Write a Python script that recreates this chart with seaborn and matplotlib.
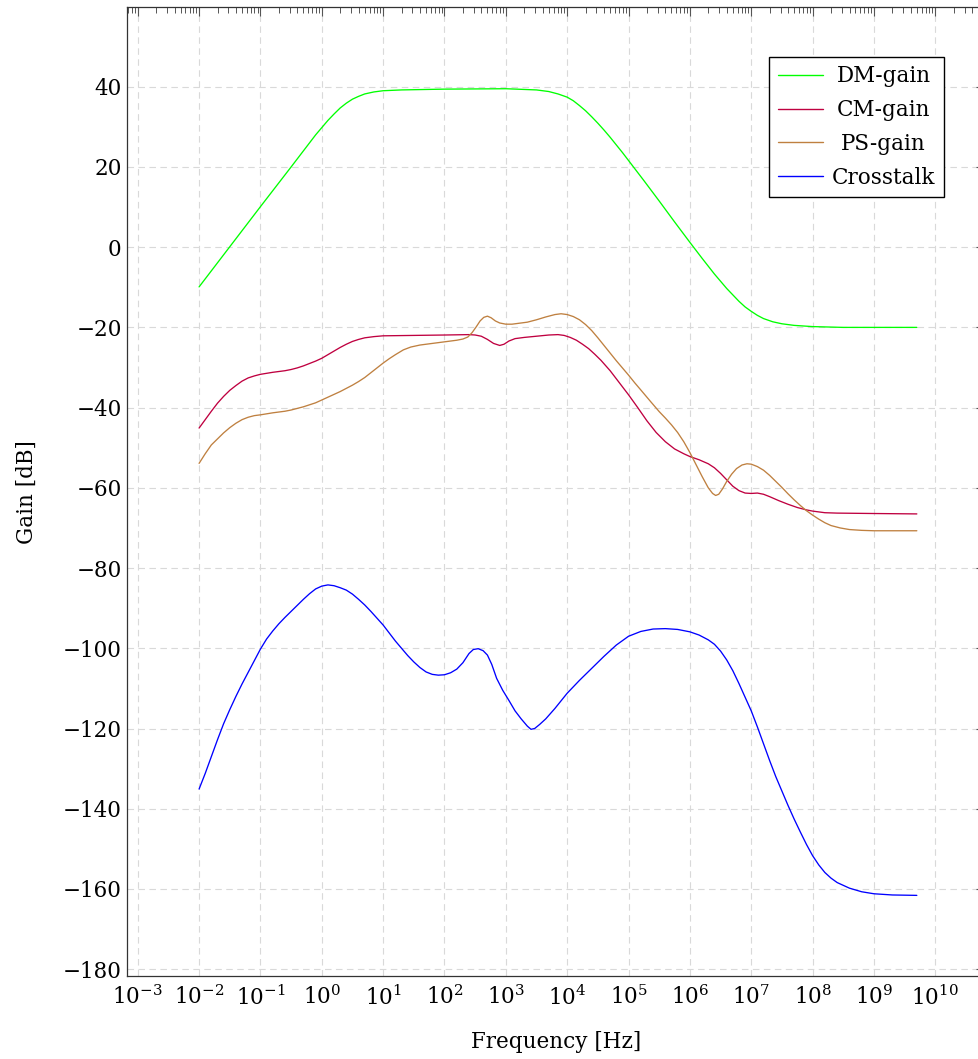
import numpy as np
import pandas as pd
import matplotlib
matplotlib.use("Agg")
import matplotlib.pyplot as plt
import seaborn as sns
from matplotlib.ticker import LogLocator, LogFormatterSciNotation, NullFormatter
from matplotlib.transforms import Affine2D

# ---------------- data (log10 of frequency in Hz, gain in dB) ----------------
series_names = ["DM-gain", "CM-gain", "PS-gain", "Crosstalk"]

dm_logf = [-2.0, -1.5, -1.0, -0.5, -0.2, -0.1, 0.0, 0.1, 0.2, 0.3, 0.4, 0.5, 0.6, 0.7, 0.85,
           1.0, 1.3, 2.0, 3.0, 3.5, 3.7, 3.85, 4.0, 4.1, 4.2, 4.3, 4.4, 4.5, 4.6, 4.7, 4.8,
           4.9, 5.0, 5.25, 5.5, 5.75, 6.0, 6.2, 6.4, 6.6, 6.8, 6.9, 7.0, 7.1, 7.2, 7.35, 7.5,
           7.7, 8.0, 8.5, 9.0, 9.699]
dm_gain = [-9.9, 0.1, 10.1, 20.0, 26.0, 28.0, 29.8, 31.6, 33.2, 34.7, 35.9, 36.9, 37.6, 38.2,
           38.7, 39.0, 39.2, 39.4, 39.5, 39.2, 38.8, 38.2, 37.4, 36.5, 35.3, 34.0, 32.5, 30.9,
           29.2, 27.4, 25.5, 23.6, 21.6, 16.6, 11.5, 6.3, 1.2, -2.8, -6.7, -10.3, -13.5,
           -14.9, -16.0, -17.0, -17.8, -18.6, -19.1, -19.5, -19.8, -20.0, -20.0, -20.0]

cm_logf = [-2.0, -1.9, -1.8, -1.7, -1.6, -1.5, -1.4, -1.3, -1.2, -1.1, -1.0, -0.8, -0.6,
           -0.5, -0.4, -0.3, -0.2, -0.1, 0.0, 0.1, 0.2, 0.3, 0.4, 0.5, 0.6, 0.7, 0.85, 1.0,
           1.5, 2.0, 2.4, 2.5, 2.6, 2.7, 2.8, 2.9, 2.97, 3.05, 3.15, 3.3, 3.5, 3.7, 3.85,
           3.95, 4.05, 4.15, 4.25, 4.35, 4.45, 4.55, 4.7, 4.85, 5.0, 5.15, 5.3, 5.45, 5.6,
           5.75, 5.9, 6.0, 6.15, 6.3, 6.4, 6.5, 6.6, 6.7, 6.8, 6.9, 7.0, 7.1, 7.2, 7.3, 7.45,
           7.6, 7.75, 7.9, 8.0, 8.2, 8.4, 9.0, 9.699]
cm_gain = [-45.1, -43.0, -40.9, -38.9, -37.2, -35.7, -34.5, -33.4, -32.6, -32.1, -31.7,
           -31.2, -30.8, -30.5, -30.1, -29.6, -29.0, -28.4, -27.7, -26.8, -25.9, -25.0,
           -24.2, -23.5, -23.0, -22.6, -22.3, -22.1, -22.0, -21.9, -21.8, -21.9, -22.2,
           -23.0, -24.0, -24.5, -24.2, -23.4, -22.8, -22.5, -22.2, -21.9, -21.8, -22.0,
           -22.5, -23.2, -24.2, -25.3, -26.7, -28.2, -30.8, -33.8, -36.8, -40.0, -43.3,
           -46.2, -48.5, -50.3, -51.5, -52.2, -53.0, -54.0, -55.0, -56.4, -58.0, -59.6,
           -60.7, -61.3, -61.4, -61.3, -61.6, -62.2, -63.2, -64.1, -64.9, -65.5, -65.8,
           -66.2, -66.3, -66.4, -66.5]

ps_logf = [-2.0, -1.9, -1.8, -1.7, -1.6, -1.5, -1.4, -1.3, -1.2, -1.1, -1.0, -0.8, -0.6,
           -0.5, -0.4, -0.3, -0.2, -0.1, 0.0, 0.1, 0.2, 0.3, 0.4, 0.5, 0.6, 0.7, 0.8, 0.9,
           1.0, 1.1, 1.2, 1.33, 1.45, 1.6, 1.8, 2.0, 2.2, 2.3, 2.38, 2.45, 2.52, 2.58, 2.64,
           2.7, 2.76, 2.83, 2.9, 3.0, 3.1, 3.2, 3.35, 3.5, 3.65, 3.8, 3.9, 4.0, 4.1, 4.2,
           4.3, 4.4, 4.5, 4.6, 4.7, 4.8, 4.9, 5.0, 5.1, 5.2, 5.36, 5.5, 5.6, 5.7, 5.8, 5.9,
           6.0, 6.1, 6.2, 6.3, 6.37, 6.42, 6.47, 6.53, 6.6, 6.68, 6.76, 6.85, 6.93, 7.0,
           7.1, 7.2, 7.3, 7.4, 7.5, 7.6, 7.7, 7.8, 7.9, 8.0, 8.1, 8.2, 8.3, 8.45, 8.6, 8.8,
           9.0, 9.699]
ps_gain = [-53.9, -51.5, -49.3, -47.8, -46.3, -45.0, -43.9, -43.0, -42.4, -42.0, -41.8,
           -41.3, -40.9, -40.6, -40.2, -39.8, -39.3, -38.8, -38.1, -37.4, -36.7, -36.0,
           -35.2, -34.4, -33.5, -32.5, -31.3, -30.1, -28.9, -27.8, -26.8, -25.6, -24.9,
           -24.4, -24.0, -23.6, -23.2, -22.9, -22.4, -21.3, -19.8, -18.4, -17.5, -17.2,
           -17.6, -18.4, -18.9, -19.2, -19.2, -19.0, -18.7, -18.1, -17.4, -16.8, -16.6,
           -16.8, -17.3, -18.1, -19.3, -20.8, -22.6, -24.5, -26.4, -28.3, -30.1, -31.9,
           -33.8, -35.6, -38.5, -41.0, -42.6, -44.3, -46.2, -48.5, -51.2, -54.2, -57.2,
           -60.0, -61.4, -61.9, -61.6, -60.3, -58.4, -56.6, -55.2, -54.3, -54.0, -54.1,
           -54.7, -55.6, -56.9, -58.4, -59.9, -61.5, -63.0, -64.4, -65.7, -66.8, -67.8,
           -68.7, -69.4, -70.0, -70.4, -70.6, -70.7, -70.7]

xt_logf = [-2.0, -1.9, -1.8, -1.7, -1.6, -1.5, -1.4, -1.3, -1.2, -1.1, -1.0, -0.9, -0.8,
           -0.7, -0.6, -0.5, -0.4, -0.3, -0.2, -0.1, 0.0, 0.1, 0.2, 0.3, 0.4, 0.5, 0.6, 0.7,
           0.8, 0.9, 1.0, 1.1, 1.2, 1.3, 1.4, 1.5, 1.6, 1.7, 1.8, 1.9, 2.0, 2.1, 2.2, 2.3,
           2.4, 2.47, 2.55, 2.63, 2.7, 2.77, 2.85, 2.95, 3.05, 3.15, 3.25, 3.35, 3.41, 3.47,
           3.55, 3.65, 3.8, 4.0, 4.2, 4.4, 4.6, 4.8, 5.0, 5.2, 5.4, 5.6, 5.8, 6.0, 6.15, 6.3,
           6.4, 6.5, 6.6, 6.7, 6.8, 6.9, 7.0, 7.1, 7.2, 7.3, 7.4, 7.5, 7.6, 7.7, 7.8, 7.9,
           8.0, 8.1, 8.2, 8.3, 8.4, 8.6, 8.8, 9.0, 9.3, 9.699]
xt_gain = [-135.1, -131.2, -127.0, -122.8, -118.8, -115.3, -112.0, -108.9, -106.0, -103.1,
           -100.2, -97.7, -95.7, -93.9, -92.3, -90.8, -89.3, -87.8, -86.4, -85.2, -84.5,
           -84.2, -84.4, -84.9, -85.5, -86.5, -87.8, -89.2, -90.8, -92.5, -94.2, -96.2,
           -98.2, -100.0, -101.8, -103.4, -104.8, -105.9, -106.5, -106.7, -106.6, -106.1,
           -105.2, -103.6, -101.3, -100.3, -100.1, -100.6, -101.7, -104.0, -107.5, -110.5,
           -113.0, -115.6, -117.6, -119.4, -120.2, -120.0, -119.0, -117.6, -115.0, -111.2,
           -108.0, -105.0, -102.0, -99.2, -97.0, -95.8, -95.2, -95.1, -95.3, -95.9, -96.7,
           -97.9, -99.0, -100.7, -102.9, -105.6, -108.8, -112.2, -115.6, -119.6, -123.8,
           -128.0, -132.0, -135.6, -139.2, -142.6, -145.8, -148.9, -151.7, -154.0, -155.9,
           -157.3, -158.4, -159.8, -160.7, -161.2, -161.5, -161.6]

x_tick_exponents = list(range(-3, 11))
y_ticks = list(range(-180, 41, 20))

colors = {"DM-gain": "#00ff00", "CM-gain": "#bf0040",
          "PS-gain": "#bf8040", "Crosstalk": "#0000ff"}

frames = []
for name, lf, g in [("DM-gain", dm_logf, dm_gain), ("CM-gain", cm_logf, cm_gain),
                    ("PS-gain", ps_logf, ps_gain), ("Crosstalk", xt_logf, xt_gain)]:
    frames.append(pd.DataFrame({"freq": np.power(10.0, np.array(lf)),
                                "gain": g, "series": name}))
df = pd.concat(frames, ignore_index=True)

# ---------------- style ----------------
sns.set_theme(style="white")
plt.rcParams["font.family"] = ["DejaVu Serif"]
plt.rcParams["mathtext.fontset"] = "dejavuserif"
plt.rcParams["axes.unicode_minus"] = True
plt.rcParams["lines.scale_dashes"] = False
plt.rcParams["text.color"] = "black"
plt.rcParams["axes.labelcolor"] = "black"
plt.rcParams["xtick.color"] = "black"
plt.rcParams["ytick.color"] = "black"

FS = 15.5

fig = plt.figure(figsize=(9.79, 10.59), dpi=100)
ax = fig.add_axes([127.3 / 979, (1059 - 976) / 1059, (985 - 127.3) / 979, (976 - 7.3) / 1059])

sns.lineplot(data=df, x="freq", y="gain", hue="series", hue_order=series_names,
             palette=colors, estimator=None, sort=True, linewidth=0.95, ax=ax)

ax.set_xscale("log")
ax.set_xlim(10 ** -3.17, 10 ** 10.81)
ax.set_ylim(-181.7, 59.8)

ax.set_xticks([10.0 ** e for e in x_tick_exponents])
ax.xaxis.set_major_formatter(LogFormatterSciNotation())
ax.xaxis.set_minor_locator(LogLocator(base=10, subs=np.arange(2, 10), numticks=200))
ax.xaxis.set_minor_formatter(NullFormatter())
ax.set_yticks(y_ticks)

ax.grid(True, which="major", color="#d9d9d9", linewidth=0.8, linestyle=(0, (4.7, 3.2)))
ax.set_axisbelow(True)

for s in ax.spines.values():
    s.set_visible(True)
    s.set_color("#333333")
    s.set_linewidth(0.9)

ax.tick_params(which="both", direction="in", top=True, right=True, color="#555555",
               labelsize=FS, labelcolor="black")
ax.tick_params(which="major", length=6.5, width=0.8)
ax.tick_params(which="minor", length=4.3, width=0.7)
ax.tick_params(axis="y", pad=4)
ax.tick_params(axis="x", pad=7)

ax.set_xlabel("Frequency [Hz]", fontsize=FS, color="black")
ax.set_ylabel("Gain [dB]", fontsize=FS, color="black")
ax.xaxis.set_label_coords(0.5, -0.057)
ax.yaxis.set_label_coords((38 - 127.3) / 857.7, 0.5)

handles, labels = ax.get_legend_handles_labels()
leg = ax.legend(handles, labels, loc="upper right", bbox_to_anchor=(0.952, 0.949),
                borderaxespad=0, frameon=True, fancybox=False, framealpha=1,
                edgecolor="black", fontsize=FS, handlelength=2.1, handletextpad=0.4,
                labelspacing=0.55, borderpad=0.4, labelcolor="black")
leg.get_frame().set_linewidth(1.0)
for ln in leg.get_lines():
    ln.set_linewidth(1.0)

# centre the legend labels within their column (as in the reference)
fig.canvas.draw()
renderer = fig.canvas.get_renderer()
texts = leg.get_texts()
widths = [t.get_window_extent(renderer).width for t in texts]
wmax = max(widths)
for t, w in zip(texts, widths):
    t.set_transform(t.get_transform() + Affine2D().translate((wmax - w) / 2.0, 0))

fig.savefig("out.png", dpi=100)
